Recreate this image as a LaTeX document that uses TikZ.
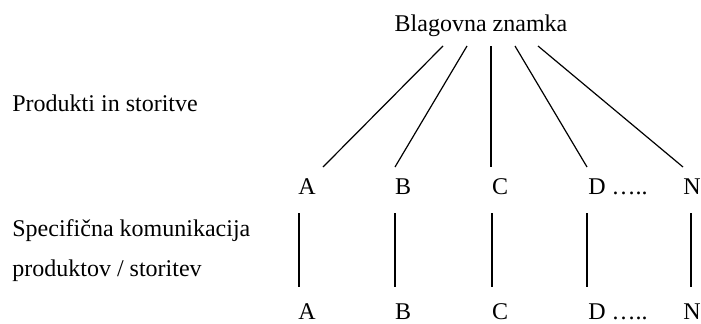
\documentclass[tikz,border=0pt]{standalone}
\usepackage{fontspec}
\setmainfont{Liberation Serif}
\usepackage{tikz}
\usetikzlibrary{positioning}

\tikzset{
    lbl/.style={inner sep=0pt, font=\fontsize{12}{14}\selectfont, text height=8pt, text depth=2pt},
    link/.style={line width=0.6pt}
}

\begin{document}
\begin{tikzpicture}[x=0.5pt, y=0.5pt]
    \useasboundingbox (0,0) rectangle (701,323);

    % Brand on top
    \node[lbl] (brand) at (481,298) {Blagovna znamka};

    % Labels on the left
    \node[lbl, anchor=west] (prod) at (12,218) {Produkti in storitve};
    \node[lbl, anchor=west] (spec) at (12,93) {Specifična komunikacija};
    \node[lbl, anchor=west] (spec2) at (12,53) {produktov / storitev};

    % Products and services
    \node[lbl] (a1) at (307,135) {A};
    \node[lbl] (b1) at (403,135) {B};
    \node[lbl] (c1) at (500,135) {C};
    \node[lbl, anchor=west] (d1) at (588,135) {D …..};
    \node[lbl] (n1) at (692,135) {N};

    % Specific communication
    \node[lbl] (a2) at (307,10) {A};
    \node[lbl] (b2) at (403,10) {B};
    \node[lbl] (c2) at (500,10) {C};
    \node[lbl, anchor=west] (d2) at (588,10) {D …..};
    \node[lbl] (n2) at (692,10) {N};

    % Line ends under the brand
    \coordinate (sA) at (443,277);
    \coordinate (sB) at (467,277);
    \coordinate (sC) at (491,277);
    \coordinate (sD) at (515,277);
    \coordinate (sN) at (538,277);
    \coordinate (eA) at (323,156);
    \coordinate (eB) at (395,156);
    \coordinate (eC) at (491,156);
    \coordinate (eD) at (587,156);
    \coordinate (eN) at (683,156);

    % Brand to products
    \draw[link] (sA) -- (eA);
    \draw[link] (sB) -- (eB);
    \draw[link] (sC) -- (eC);
    \draw[link] (sD) -- (eD);
    \draw[link] (sN) -- (eN);

    % Line ends between the rows
    \coordinate (uA) at (299,110);
    \coordinate (uB) at (395,110);
    \coordinate (uC) at (492,110);
    \coordinate (uD) at (587,110);
    \coordinate (uN) at (691,110);
    \coordinate (lA) at (299,36);
    \coordinate (lB) at (395,36);
    \coordinate (lC) at (492,36);
    \coordinate (lD) at (587,36);
    \coordinate (lN) at (691,36);

    % Products to communication
    \draw[link] (uA) -- (lA);
    \draw[link] (uB) -- (lB);
    \draw[link] (uC) -- (lC);
    \draw[link] (uD) -- (lD);
    \draw[link] (uN) -- (lN);
\end{tikzpicture}
\end{document}
